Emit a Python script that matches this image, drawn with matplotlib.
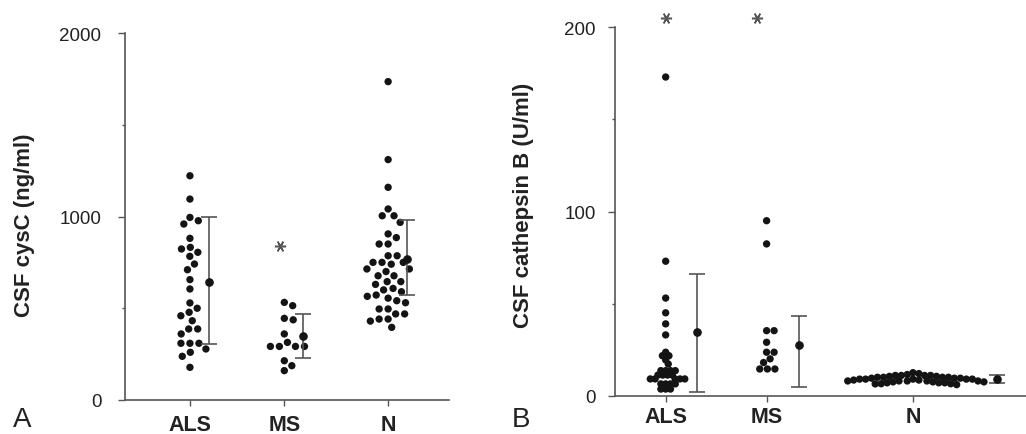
import numpy as np
import matplotlib
matplotlib.use("Agg")
import matplotlib.pyplot as plt
from matplotlib.ticker import MultipleLocator

plt.rcParams['font.family'] = ['Liberation Sans', 'DejaVu Sans']

# ---------------- data ----------------
categories = ["ALS", "MS", "N"]

# Panel A: CSF cysC (ng/ml)
cysc_als = [1222, 1095, 995, 977, 959, 881, 832, 823, 805, 783, 741, 710, 656, 605,
            529, 500, 478, 459, 432, 387, 387, 360, 309, 309, 309, 278, 260, 238, 178]
cysc_ms = [532, 514, 445, 437, 360, 314, 292, 292, 292, 292, 214, 187, 160]
cysc_n = [1735, 1310, 1159, 1041, 1004, 1004, 968, 905, 885, 850, 850, 786, 786, 750,
          750, 750, 740, 714, 714, 700, 677, 677, 645, 645, 630, 608, 600, 590, 572,
          565, 555, 541, 530, 496, 496, 469, 469, 441, 441, 430, 396]
cysc_mean = [645, 350, 770]
cysc_lo = [305, 229, 572]
cysc_hi = [1000, 469, 981]
cysc_star_value = 839          # asterisk over MS

# Panel B: CSF cathepsin B (U/ml)
catb_als = [173, 73, 53, 45, 39, 33, 23.6, 21.7, 21.7, 19.4, 17.2, 13.6, 13.6, 13.6,
            13.6, 11.2, 11.2, 11.2, 11.2, 9.1, 9.1, 9.1, 9.1, 9.1, 6.4, 6.4, 6.4, 6.4,
            3.6, 3.6, 3.6]
catb_ms = [95, 82.4, 35.3, 35.3, 29, 23.6, 23.6, 20, 18, 14.5, 14.5, 14.5]
catb_n = [6.4, 8, 9, 7, 10, 8.5, 6.5, 9.5, 7.5, 10.5, 8, 11, 7, 9, 10, 6, 11.5, 8, 9.5,
          12, 7.5, 10, 11, 9, 8, 12.5, 6.5, 10.5, 9, 11, 7, 10, 8.5, 9.5, 11, 7.5, 9, 8]
catb_mean = [34.5, 27.5, 9]
catb_lo = [2, 4.5, 7]
catb_hi = [66, 43.5, 11]
catb_star_value = 205          # asterisks over ALS and MS

# ---------------- layout ----------------
W, H = 1026, 435
fig = plt.figure(figsize=(W / 100, H / 100), dpi=100)

axA = fig.add_axes([125 / W, 1 - 401 / H, 324 / W, (401 - 34) / H])
axB = fig.add_axes([615 / W, 1 - 396.7 / H, (W - 615) / W, (396.7 - 28.3) / H])

posA = [1, 2, 3.1]
posB = [1, 2, 3.45]
errA_off = [0.2, 0.2, 0.2]
errB_off = [0.31, 0.32, 0.83]
swarmA_d = [9.0, 9.0, 9.0]
swarmB_d = [4.8, 7.5, 6.0]

DOT = '#141414'
LINE = '#555555'
TXT = '#222222'


def swarm(ax, xc, vals, d):
    """Beeswarm layout in pixel space, returns data x positions."""
    vals = np.asarray(vals, float)
    pts = ax.transData.transform(np.column_stack([np.full_like(vals, xc), vals]))
    x0 = pts[0, 0]
    ys = pts[:, 1]
    order = np.argsort(-ys)
    placed = []
    xs = np.zeros(len(vals))
    for i in order:
        y = ys[i]
        cands = [0.0]
        for (px, py) in placed:
            dy = abs(py - y)
            if dy < d:
                dx = np.sqrt(d * d - dy * dy)
                cands += [px + dx, px - dx]
        cands.sort(key=lambda c: (abs(c), -c))
        for c in cands:
            ok = all((c - px) ** 2 + (y - py) ** 2 >= d * d - 1e-6 for px, py in placed)
            if ok:
                xs[i] = c
                placed.append((c, y))
                break
    inv = ax.transData.inverted()
    data = inv.transform(np.column_stack([x0 + xs, ys]))
    return data[:, 0]


def style(ax, ymax, major, minor, xlim, xpad, ypad):
    ax.set_xlim(*xlim)
    ax.set_ylim(0, ymax)
    for s in ['top', 'right']:
        ax.spines[s].set_visible(False)
    for s in ['left', 'bottom']:
        ax.spines[s].set_color(LINE)
        ax.spines[s].set_linewidth(1.2)
    ax.yaxis.set_major_locator(MultipleLocator(major))
    ax.yaxis.set_minor_locator(MultipleLocator(minor))
    ax.tick_params(axis='y', which='major', length=5, width=1, color=LINE,
                   labelsize=13.5, labelcolor=TXT, pad=ypad)
    ax.tick_params(axis='y', which='minor', length=2.5, width=1, color=LINE)
    ax.tick_params(axis='x', length=4, width=1, color=LINE, pad=xpad)
    ax.patch.set_alpha(0)


# ---------------- Panel A ----------------
style(axA, 2000, 1000, 500, (0.312, 3.745), 6.0, 12)
for p, vals, d in zip(posA, [cysc_als, cysc_ms, cysc_n], swarmA_d):
    xs = swarm(axA, p, vals, d)
    axA.scatter(xs, vals, s=28, color=DOT, edgecolors='none', zorder=3)
for p, off, m, lo, hi in zip(posA, errA_off, cysc_mean, cysc_lo, cysc_hi):
    axA.errorbar([p + off], [m], yerr=[[m - lo], [hi - m]], fmt='o', ms=5.2,
                 color=DOT, ecolor=LINE, elinewidth=1.2, capsize=5.5, capthick=1.2,
                 zorder=3)
axA.plot([posA[1] - 0.05], [cysc_star_value], marker=(6, 2, 90), ms=8,
         mew=1.1, color='#555555', linestyle='none')
axA.set_xticks(posA)
axA.set_xticklabels(categories, fontsize=15.5, fontweight='bold', color=TXT)
axA.set_ylabel("CSF cysC (ng/ml)", fontsize=16, fontweight='bold', color=TXT)
axA.yaxis.set_label_coords(-0.278, 0.48)

# ---------------- Panel B ----------------
style(axB, 200, 100, 50, (0.498, 4.57), 3.5, 9)
for p, vals, d in zip(posB, [catb_als, catb_ms, catb_n], swarmB_d):
    xs = swarm(axB, p, vals, d)
    axB.scatter(xs, vals, s=28, color=DOT, edgecolors='none', zorder=3)
for p, off, m, lo, hi in zip(posB, errB_off, catb_mean, catb_lo, catb_hi):
    axB.errorbar([p + off], [m], yerr=[[m - lo], [hi - m]], fmt='o', ms=5.2,
                 color=DOT, ecolor=LINE, elinewidth=1.2, capsize=5.5, capthick=1.2,
                 zorder=3)
axB.plot([posB[0], posB[1] - 0.1], [catb_star_value] * 2, marker=(6, 2, 90), ms=8,
         mew=1.1, color='#555555', linestyle='none', clip_on=False)
axB.set_xticks(posB)
axB.set_xticklabels(categories, fontsize=15.5, fontweight='bold', color=TXT)
axB.set_ylabel("CSF cathepsin B (U/ml)", fontsize=16, fontweight='bold', color=TXT)
axB.yaxis.set_label_coords(-0.197, 0.519)

# Panel letters
fig.text(13 / W, 2 / H, "A", fontsize=20, color=TXT, va='bottom')
fig.text(512 / W, 2 / H, "B", fontsize=20, color=TXT, va='bottom')

fig.savefig("out.png", dpi=100)
